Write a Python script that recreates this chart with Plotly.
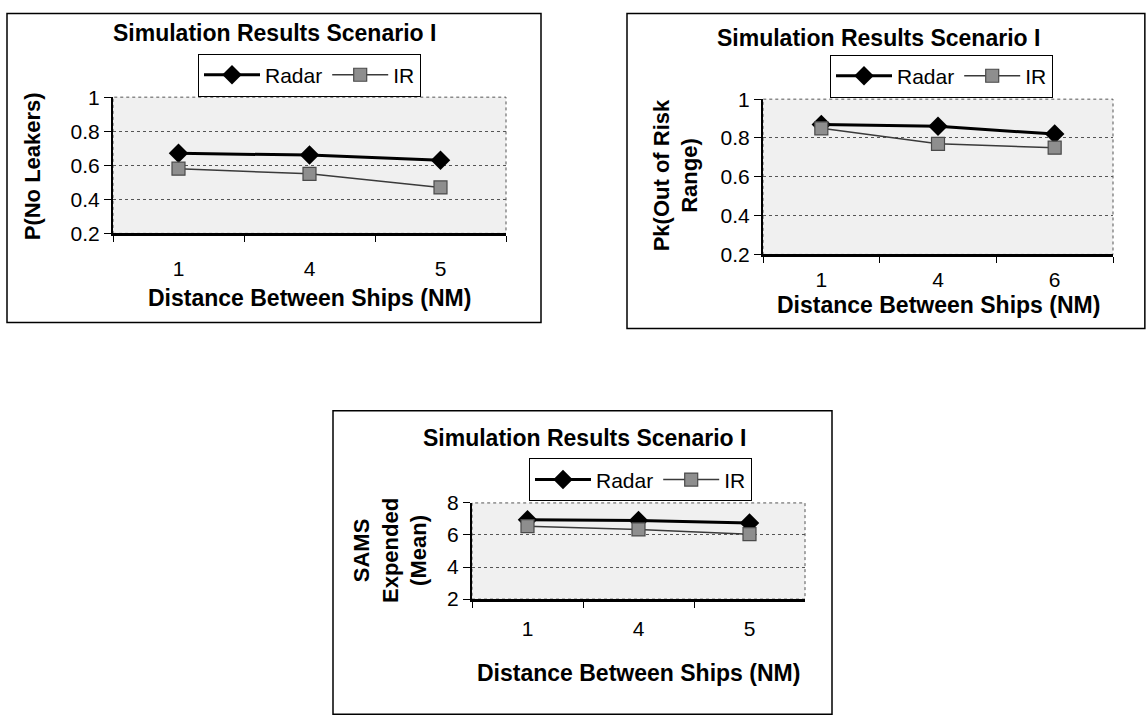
import plotly.graph_objects as go

W, H = 1146, 715

# ---------------- data ----------------
title_text = "Simulation Results Scenario I"
x_title = "Distance Between Ships (NM)"
series_names = ["Radar", "IR"]

c1_x = ["1", "4", "5"]
c1_radar = [0.67, 0.66, 0.63]
c1_ir = [0.58, 0.55, 0.47]
c1_ytitle = "P(No Leakers)"
c1_yticks = [0.2, 0.4, 0.6, 0.8, 1]

c2_x = ["1", "4", "6"]
c2_radar = [0.87, 0.86, 0.82]
c2_ir = [0.85, 0.77, 0.75]
c2_ytitle = "Pk(Out of Risk<br>Range)"
c2_yticks = [0.2, 0.4, 0.6, 0.8, 1]

c3_x = ["1", "4", "5"]
c3_radar = [6.95, 6.9, 6.75]
c3_ir = [6.55, 6.35, 6.05]
c3_ytitle = "SAMS<br>Expended<br>(Mean)"
c3_yticks = [2, 4, 6, 8]

FONT = "Liberation Sans, Arial, sans-serif"

# vertical placement correction observed for the rendering (out = 12 + 0.966 * y)
VOFF, VSCALE = 12.0, 0.966


def px(v):
    return v / W


def py(v):
    return min(1.0, 1 - ((v - VOFF) / VSCALE) / H)


def dx(a, b):
    return [a / W, b / W]


def dy(top, bottom):
    return [py(bottom), py(top)]


fig = go.Figure()

charts = [
    dict(x=c1_x, radar=c1_radar, ir=c1_ir, ytitle=c1_ytitle, yticks=c1_yticks,
         plot=(113, 506, 97, 233), box=(7, 541, 8, 322), title=(274, 33),
         legend=(198, 75), ytitle_pos=(32, 166), xtitle_y=297, xlabstand=15),
    dict(x=c2_x, radar=c2_radar, ir=c2_ir, ytitle=c2_ytitle, yticks=c2_yticks,
         plot=(763, 1113, 99, 254), box=(627, 1146, 10, 328), title=(878, 38),
         legend=(830, 76), ytitle_pos=(676, 175), xtitle_y=304, xlabstand=5),
    dict(x=c3_x, radar=c3_radar, ir=c3_ir, ytitle=c3_ytitle, yticks=c3_yticks,
         plot=(472, 805, 502, 598), box=(333, 832, 410, 713), title=(584, 437),
         legend=(529, 479), ytitle_pos=(390, 550), xtitle_y=672, xlabstand=9),
]

shapes = []
annotations = []

for i, c in enumerate(charts, start=1):
    xa = "x" if i == 1 else f"x{i}"
    ya = "y" if i == 1 else f"y{i}"
    leg = "legend" if i == 1 else f"legend{i}"
    l, r, t, b = c["plot"]

    fig.add_trace(go.Scatter(
        x=c["x"], y=c["radar"], name=series_names[0], mode="lines+markers",
        line=dict(color="black", width=3),
        marker=dict(symbol="diamond", size=15, color="black"),
        xaxis=xa, yaxis=ya, legend=leg, showlegend=True))
    fig.add_trace(go.Scatter(
        x=c["x"], y=c["ir"], name=series_names[1], mode="lines+markers",
        line=dict(color="#3a3a3a", width=1.5),
        marker=dict(symbol="square", size=13, color="#8e8e8e",
                    line=dict(color="#4a4a4a", width=1.2)),
        xaxis=xa, yaxis=ya, legend=leg, showlegend=True))

    yt = c["yticks"]
    fig.update_layout(**{
        ("xaxis" if i == 1 else f"xaxis{i}"): dict(
            domain=dx(l, r), anchor=ya, type="category",
            range=[-0.5, len(c["x"]) - 0.5],
            tickson="boundaries", ticks="outside", ticklen=6, tickwidth=1,
            tickcolor="black", showgrid=False, showline=True,
            linecolor="black", linewidth=2.5, zeroline=False,
            ticklabelstandoff=c["xlabstand"],
            tickfont=dict(family=FONT, size=21, color="black")),
        ("yaxis" if i == 1 else f"yaxis{i}"): dict(
            domain=dy(t, b), anchor=xa, range=[yt[0], yt[-1]],
            tickvals=yt, ticks="outside", ticklen=7, tickcolor="black",
            showline=True, linecolor="black", linewidth=2,
            showgrid=True, gridcolor="#555555", griddash="dot", gridwidth=1,
            zeroline=False,
            tickfont=dict(family=FONT, size=21, color="black")),
        leg: dict(
            x=px(c["legend"][0]), y=py(c["legend"][1]), xanchor="left",
            yanchor="middle", orientation="h", bgcolor="white",
            bordercolor="black", borderwidth=1,
            font=dict(family=FONT, size=21, color="black"),
            itemwidth=56, tracegroupgap=0),
    })

    # plot area background (stippled look approximated by light gray) and dotted border
    shapes.append(dict(type="rect", xref=f"{xa} domain", yref=f"{ya} domain",
                       x0=0, x1=1, y0=0, y1=1, fillcolor="#f0f0f0",
                       line=dict(width=0), layer="below"))
    shapes.append(dict(type="rect", xref=f"{xa} domain", yref=f"{ya} domain",
                       x0=0, x1=1, y0=0, y1=1,
                       line=dict(color="#555555", width=1, dash="dot"),
                       layer="below"))
    # chart frame
    bl, br, bt, bb = c["box"]
    shapes.append(dict(type="rect", xref="paper", yref="paper",
                       x0=px(bl), x1=min(px(br), 0.999), y0=py(bb), y1=min(py(bt), 0.998),
                       line=dict(color="black", width=1.5), layer="below"))

    annotations.append(dict(text=f"<b>{title_text}</b>", xref="paper", yref="paper",
                            x=px(c["title"][0]), y=py(c["title"][1]),
                            xanchor="center", yanchor="middle", showarrow=False,
                            font=dict(family=FONT, size=23, color="black")))
    annotations.append(dict(text=f"<b>{x_title}</b>", xref="paper", yref="paper",
                            x=px((l + r) / 2), y=py(c["xtitle_y"]),
                            xanchor="center", yanchor="middle", showarrow=False,
                            font=dict(family=FONT, size=23, color="black")))
    annotations.append(dict(text="<b>" + c["ytitle"].replace("<br>", "</b><br><b>") + "</b>",
                            xref="paper", yref="paper",
                            x=px(c["ytitle_pos"][0]), y=py(c["ytitle_pos"][1]),
                            xanchor="center", yanchor="middle", showarrow=False,
                            textangle=-90,
                            font=dict(family=FONT, size=22, color="black")))

fig.update_layout(
    width=W, height=H, margin=dict(l=0, r=0, t=0, b=0),
    paper_bgcolor="white", plot_bgcolor="rgba(0,0,0,0)",
    shapes=shapes, annotations=annotations,
    font=dict(family=FONT, color="black"),
)

post = ("document.body.style.margin='0';document.body.style.overflow='hidden';"
        "var gd=document.getElementById('{plot_id}');"
        "gd.style.position='fixed';gd.style.top='0px';gd.style.left='0px';")

fig.write_html("out.html", config={"displayModeBar": False}, post_script=post)
